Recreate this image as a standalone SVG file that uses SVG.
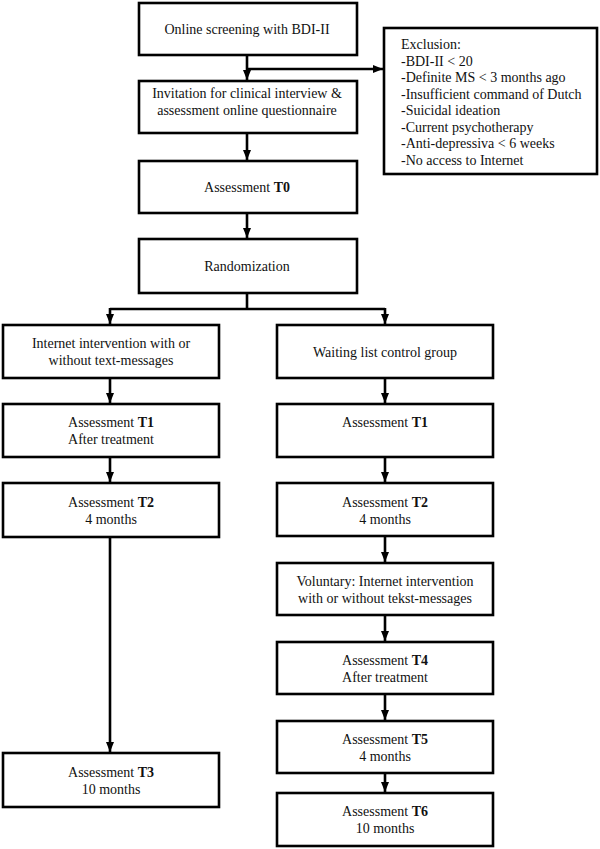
<svg xmlns="http://www.w3.org/2000/svg" width="600" height="849" viewBox="0 0 600 849">
<style>
.box{fill:#fff;stroke:#000;stroke-width:2.6}
.t{font-family:"Liberation Serif","Times New Roman",serif;font-size:14px;fill:#111;text-anchor:middle}
.l{font-family:"Liberation Serif","Times New Roman",serif;font-size:14px;fill:#111}
.c{fill:none;stroke:#000;stroke-width:2.6}
.b{font-weight:bold}
</style>
<defs>
<marker id="ah" markerWidth="10" markerHeight="8" refX="10" refY="4" orient="auto" markerUnits="userSpaceOnUse">
<path d="M0,0 L10,4 L0,8 Z" fill="#000"/>
</marker>
</defs>
<rect width="600" height="849" fill="#fff"/>
<g id="connectors">
<path class="c" d="M247,55 V80" marker-end="url(#ah)"/>
<path class="c" d="M247,69 H383" marker-end="url(#ah)"/>
<path class="c" d="M247,133 V160" marker-end="url(#ah)"/>
<path class="c" d="M247,213 V238" marker-end="url(#ah)"/>
<path class="c" d="M247,293 V309"/>
<path class="c" d="M110,309 H385"/>
<path class="c" d="M110,308 V324" marker-end="url(#ah)"/>
<path class="c" d="M385,308 V324" marker-end="url(#ah)"/>
<path class="c" d="M110,378 V403" marker-end="url(#ah)"/>
<path class="c" d="M110,457 V482" marker-end="url(#ah)"/>
<path class="c" d="M110,537 V752" marker-end="url(#ah)"/>
<path class="c" d="M385,378 V403" marker-end="url(#ah)"/>
<path class="c" d="M385,457 V482" marker-end="url(#ah)"/>
<path class="c" d="M385,536 V562" marker-end="url(#ah)"/>
<path class="c" d="M385,615 V641" marker-end="url(#ah)"/>
<path class="c" d="M385,694 V720" marker-end="url(#ah)"/>
<path class="c" d="M385,773 V792" marker-end="url(#ah)"/>
</g>
<g id="screening">
<rect class="box" x="139" y="3" width="218" height="52"/>
<text class="t" x="247" y="34">Online screening with BDI-II</text>
</g>
<g id="exclusion">
<rect class="box" x="384" y="28" width="213" height="146"/>
<text class="l" x="401" y="49">Exclusion:</text>
<text class="l" x="401" y="66">-BDI-II &lt; 20</text>
<text class="l" x="401" y="82">-Definite MS &lt; 3 months ago</text>
<text class="l" x="401" y="99">-Insufficient command of Dutch</text>
<text class="l" x="401" y="115">-Suicidal ideation</text>
<text class="l" x="401" y="132">-Current psychotherapy</text>
<text class="l" x="401" y="148">-Anti-depressiva &lt; 6 weeks</text>
<text class="l" x="401" y="165">-No access to Internet</text>
</g>
<g id="invitation">
<rect class="box" x="139" y="81" width="218" height="52"/>
<text class="t" x="247" y="98">Invitation for clinical interview &amp;</text>
<text class="t" x="247" y="115">assessment online questionnaire</text>
</g>
<g id="t0">
<rect class="box" x="139" y="161" width="218" height="52"/>
<text class="t" x="247" y="192">Assessment <tspan class="b">T0</tspan></text>
</g>
<g id="randomization">
<rect class="box" x="139" y="239" width="218" height="54"/>
<text class="t" x="247" y="271">Randomization</text>
</g>
<g id="intervention">
<rect class="box" x="3" y="325" width="216" height="53"/>
<text class="t" x="111" y="348">Internet intervention with or</text>
<text class="t" x="111" y="365">without text-messages</text>
</g>
<g id="left-t1">
<rect class="box" x="3" y="404" width="216" height="53"/>
<text class="t" x="111" y="427">Assessment <tspan class="b">T1</tspan></text>
<text class="t" x="111" y="444">After treatment</text>
</g>
<g id="left-t2">
<rect class="box" x="3" y="483" width="216" height="54"/>
<text class="t" x="111" y="507">Assessment <tspan class="b">T2</tspan></text>
<text class="t" x="111" y="524">4 months</text>
</g>
<g id="left-t3">
<rect class="box" x="3" y="753" width="216" height="54"/>
<text class="t" x="111" y="777">Assessment <tspan class="b">T3</tspan></text>
<text class="t" x="111" y="794">10 months</text>
</g>
<g id="waiting">
<rect class="box" x="277" y="325" width="216" height="53"/>
<text class="t" x="385" y="357">Waiting list control group</text>
</g>
<g id="right-t1">
<rect class="box" x="277" y="404" width="216" height="53"/>
<text class="t" x="385" y="427">Assessment <tspan class="b">T1</tspan></text>
</g>
<g id="right-t2">
<rect class="box" x="277" y="483" width="216" height="53"/>
<text class="t" x="385" y="507">Assessment <tspan class="b">T2</tspan></text>
<text class="t" x="385" y="524">4 months</text>
</g>
<g id="voluntary">
<rect class="box" x="277" y="563" width="216" height="52"/>
<text class="t" x="385" y="586">Voluntary: Internet intervention</text>
<text class="t" x="385" y="603">with or without tekst-messages</text>
</g>
<g id="t4">
<rect class="box" x="277" y="642" width="216" height="52"/>
<text class="t" x="385" y="665">Assessment <tspan class="b">T4</tspan></text>
<text class="t" x="385" y="682">After treatment</text>
</g>
<g id="t5">
<rect class="box" x="277" y="721" width="216" height="52"/>
<text class="t" x="385" y="744">Assessment <tspan class="b">T5</tspan></text>
<text class="t" x="385" y="761">4 months</text>
</g>
<g id="t6">
<rect class="box" x="277" y="793" width="216" height="53"/>
<text class="t" x="385" y="816">Assessment <tspan class="b">T6</tspan></text>
<text class="t" x="385" y="833">10 months</text>
</g>
</svg>
